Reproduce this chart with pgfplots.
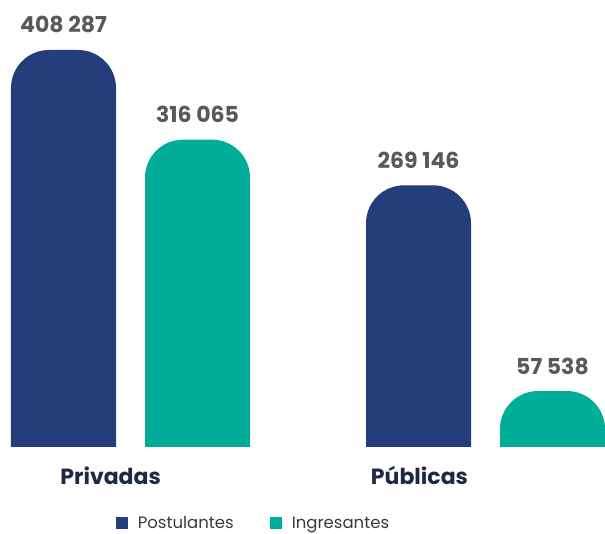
\documentclass[border=0pt]{standalone}
\usepackage{pgfplots}
\pgfplotsset{compat=1.18}
\usepackage{fontspec}
\setmainfont{Poppins}
\definecolor{postul}{HTML}{243D7B}
\definecolor{ingres}{HTML}{00AD99}
\definecolor{numgray}{HTML}{595959}
\definecolor{catnavy}{HTML}{1E2A45}
\definecolor{legtext}{HTML}{3A3A3A}
\begin{document}
\begin{tikzpicture}
\useasboundingbox (0pt,-87pt) rectangle (605pt,447pt);
\begin{scope}
\clip (0pt,0pt) rectangle (605pt,447pt);
\begin{axis}[
  at={(0pt,-48.62pt)}, anchor=south west,
  scale only axis, width=605pt, height=495.62pt,
  xmin=-0.3676, xmax=1.3366,
  ymin=0, ymax=509711,
  ybar, bar width=105pt,
  axis line style={draw=none},
  tick style={draw=none},
  ytick=\empty, xtick=\empty,
  y filter/.expression={y+50000},
  nodes near coords,
  point meta=explicit symbolic,
  nodes near coords style={anchor=base, yshift=17pt, font=\fontsize{22}{26}\selectfont\bfseries, text=numgray},
]
\addplot[fill=postul, draw=none, rounded corners=38pt, bar shift=-67pt] table[col sep=comma, x=x, y=y, meta=lab] {
x,y,lab
0,408287,408 287
1,269146,269 146
};
\addplot[fill=ingres, draw=none, rounded corners=38pt, bar shift=67pt] table[col sep=comma, x=x, y=y, meta=lab] {
x,y,lab
0,316065,316 065
1,57538,57 538
};
\end{axis}
\end{scope}
\begin{axis}[
  at={(0pt,0pt)}, anchor=south west,
  scale only axis, width=605pt, height=447pt,
  xmin=-0.3676, xmax=1.3366,
  ymin=0, ymax=1,
  axis line style={draw=none},
  tick style={draw=none},
  ytick=\empty,
  xtick={-0.056,0.814},
  xticklabels={Privadas,Públicas},
  xticklabel style={anchor=base, yshift=-38pt, font=\fontsize{22}{26}\selectfont\bfseries, text=catnavy},
  legend columns=2,
  legend style={draw=none, at={(0.419,-0.171)}, anchor=center, font=\fontsize{16.5}{19}\selectfont, text=legtext,
    /tikz/every odd column/.append style={column sep=8pt},
    /tikz/every even column/.append style={column sep=34pt}},
  legend image code/.code={\fill[#1,sharp corners] (0pt,-6pt) rectangle (12pt,6pt);},
]
\addlegendimage{fill=postul, draw=none}
\addlegendentry{Postulantes}
\addlegendimage{fill=ingres, draw=none}
\addlegendentry{Ingresantes}
\end{axis}
\end{tikzpicture}
\end{document}
